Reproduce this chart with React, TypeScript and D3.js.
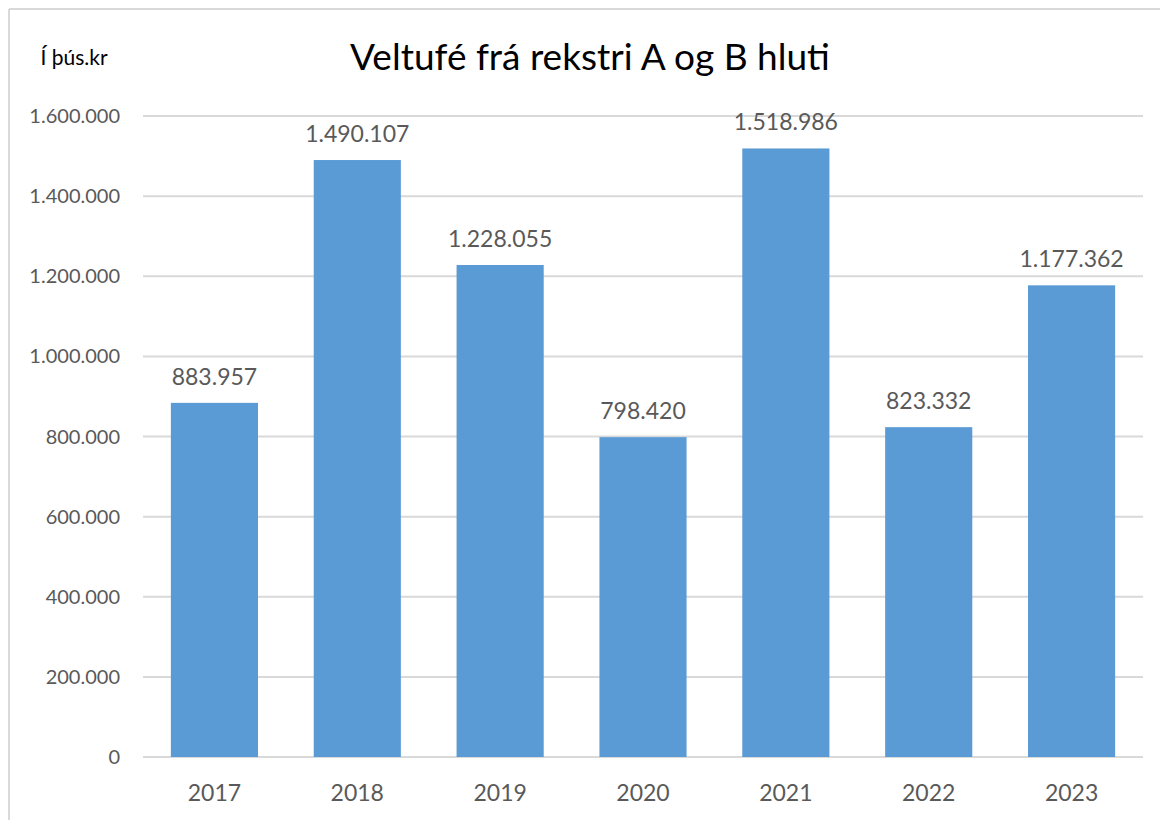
import React from "react";
import * as d3 from "d3";

const years = ["2017", "2018", "2019", "2020", "2021", "2022", "2023"];
const values = [883957, 1490107, 1228055, 798420, 1518986, 823332, 1177362];
const yTicks = [0, 200000, 400000, 600000, 800000, 1000000, 1200000, 1400000, 1600000];
const title = "Veltufé frá rekstri A og B hluti";
const unitLabel = "Í þús.kr";

const fmt = (v: number) => d3.format(",")(v).replace(/,/g, ".");

export default function App() {
  const W = 1168, H = 820;
  const x = d3.scaleBand<string>().domain(years).range([143, 1143]).paddingInner(0.39).paddingOuter(0.195);
  const y = d3.scaleLinear().domain([0, 1600000]).range([757, 116]);
  const font = "Lato, 'Open Sans', sans-serif";
  return (
    <svg width={W - 8} height={H - 8} style={{ display: "block" }}>
      <g transform="translate(-8,-8)">
        <rect x={0} y={0} width={W} height={H} fill="#fff" />
        <line x1={9} y1={9} x2={W} y2={9} stroke="#D9D9D9" strokeWidth={2} />
        <line x1={9} y1={9} x2={9} y2={H} stroke="#D9D9D9" strokeWidth={2} />
        <text x={590} y={70} textAnchor="middle" fontFamily={font} fontSize={37} fill="#000">{title}</text>
        <text x={74} y={65} textAnchor="middle" fontFamily={font} fontSize={21} fill="#000">{unitLabel}</text>
        {yTicks.map((t) => (
          <g key={t}>
            <line x1={143} x2={1143} y1={y(t)} y2={y(t)} stroke="#D9D9D9" strokeWidth={2} />
            <text x={120} y={y(t)} dy="0.35em" textAnchor="end" fontFamily={font} fontSize={20} fill="#595959">{fmt(t)}</text>
          </g>
        ))}
        {years.map((yr, i) => (
          <g key={yr}>
            <rect x={x(yr)} y={y(values[i])} width={x.bandwidth()} height={y(0) - y(values[i])} fill="#5B9BD5" />
            <text x={(x(yr) as number) + x.bandwidth() / 2} y={y(values[i]) - 18} textAnchor="middle" fontFamily={font} fontSize={23} fill="#595959">{fmt(values[i])}</text>
            <text x={(x(yr) as number) + x.bandwidth() / 2} y={793} dy="0.35em" textAnchor="middle" fontFamily={font} fontSize={23} fill="#595959">{yr}</text>
          </g>
        ))}
      </g>
    </svg>
  );
}
